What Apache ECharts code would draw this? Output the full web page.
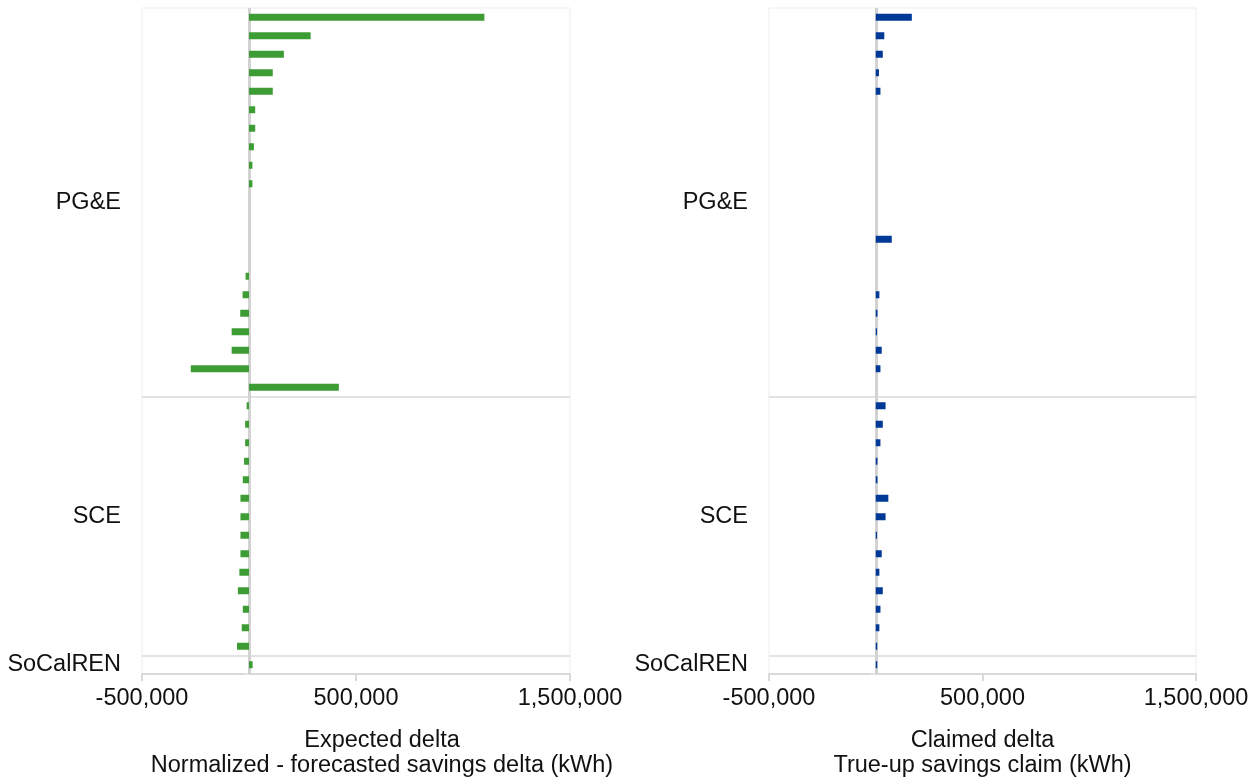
<!DOCTYPE html>
<html><head><meta charset="utf-8">
<script src="https://cdn.jsdelivr.net/npm/echarts@6/dist/echarts.min.js"></script>
<style>html,body{margin:0;padding:0;background:#fff}#c{width:1257px;height:778px}</style>
</head><body><div id="c"></div>
<script>
// Categories (rows, top to bottom)
const categories = [
  'PG&E-01','PG&E-02','PG&E-03','PG&E-04','PG&E-05','PG&E-06','PG&E-07','PG&E-08','PG&E-09','PG&E-10',
  'PG&E-11','PG&E-12','PG&E-13','PG&E-14','PG&E-15','PG&E-16','PG&E-17','PG&E-18','PG&E-19','PG&E-20','PG&E-21',
  'SCE-01','SCE-02','SCE-03','SCE-04','SCE-05','SCE-06','SCE-07','SCE-08','SCE-09','SCE-10','SCE-11','SCE-12','SCE-13','SCE-14',
  'SoCalREN-01'
];
// Group label shown at one row of each group
const groupLabels = { 'PG&E-11': 'PG&E', 'SCE-07': 'SCE', 'SoCalREN-01': 'SoCalREN' };
// First row of each group after the first (separator lines)
const groupStarts = ['SCE-01', 'SoCalREN-01'];

// Expected delta: Normalized - forecasted savings delta (kWh)
const expectedDelta = [
  1100000, 288000, 163000, 111000, 111000, 29000, 29000, 23000, 16000, 16000,
  null, null, null, null, -16000, -30000, -41000, -81000, -81000, -272000, 420000,
  -11000, -18000, -18000, -23000, -29000, -40000, -40000, -40000, -40000, -45000, -52000, -29000, -34000, -56000,
  17000
];
// Claimed delta: True-up savings claim (kWh)
const claimedDelta = [
  169000, 40000, 33000, 15000, 22000, null, null, null, null, null,
  null, null, 75000, null, null, 17000, 8000, 6000, 28000, 22000, null,
  46000, 33000, 22000, 8000, 8000, 59000, 46000, 6000, 28000, 17000, 33000, 22000, 17000, 7000,
  7000
];
const xTicks = { min: -500000, max: 1500000, interval: 1000000 };
const xNames = ['Expected delta\nNormalized - forecasted savings delta (kWh)', 'Claimed delta\nTrue-up savings claim (kWh)'];

const FONT = 'Liberation Sans, Arial, sans-serif';
const TXT = '#111111';
const FS = 23.5;
const fmt = v => v.toLocaleString('en-US');

function xAxisCfg(gi, name, pad) {
  return {
    type: 'value', gridIndex: gi, min: xTicks.min, max: xTicks.max, interval: xTicks.interval,
    axisLine: { show: true, onZero: false, lineStyle: { color: '#D9D9D9', width: 2 } },
    axisTick: { show: true, length: 7, lineStyle: { color: '#D9D9D9', width: 2 } },
    splitLine: { show: false },
    axisLabel: { formatter: fmt, fontFamily: FONT, fontSize: FS, color: TXT, margin: 13 },
    name: name, nameLocation: 'middle', nameGap: 54,
    nameTextStyle: { fontFamily: FONT, fontSize: FS, color: TXT, lineHeight: 25, padding: pad }
  };
}
function yAxisCfg(gi) {
  return {
    type: 'category', gridIndex: gi, data: categories, inverse: true,
    axisLine: { show: false },
    axisTick: { show: true, length: 5, interval: (i, v) => groupStarts.includes(v), lineStyle: { color: '#E3E3E3', width: 2 } },
    splitLine: { show: true, interval: (i, v) => groupStarts.includes(v), lineStyle: { color: '#E3E3E3', width: 2 } },
    axisLabel: { interval: (i, v) => v in groupLabels, formatter: v => groupLabels[v] || '',
                 fontFamily: FONT, fontSize: FS, color: TXT, margin: 21 }
  };
}
function barSeries(gi, data, color) {
  return {
    type: 'bar', xAxisIndex: gi, yAxisIndex: gi, data: data, barWidth: 7, z: 3,
    itemStyle: { color: color },
    markLine: { silent: true, symbol: 'none', z: 1, label: { show: false },
                lineStyle: { color: '#D2D2D2', width: 3, type: 'solid' }, data: [{ xAxis: 0 }] }
  };
}

const chart = echarts.init(document.getElementById('c'), null, { renderer: 'canvas' });
chart.setOption({
  animation: false,
  backgroundColor: '#fff',
  grid: [
    { left: 142, right: 687, top: 8, bottom: 104, show: true, borderColor: '#EDEDED', borderWidth: 1,
      containLabel: false, outerBoundsMode: 'none' },
    { left: 769, right: 61, top: 8, bottom: 104, show: true, borderColor: '#EDEDED', borderWidth: 1,
      containLabel: false, outerBoundsMode: 'none' }
  ],
  xAxis: [xAxisCfg(0, xNames[0], [0, 0, 0, 52]), xAxisCfg(1, xNames[1], [0, 0, 0, 0])],
  yAxis: [yAxisCfg(0), yAxisCfg(1)],
  series: [barSeries(0, expectedDelta, '#3E9C35'), barSeries(1, claimedDelta, '#003A96')]
});
</script>
</body></html>
